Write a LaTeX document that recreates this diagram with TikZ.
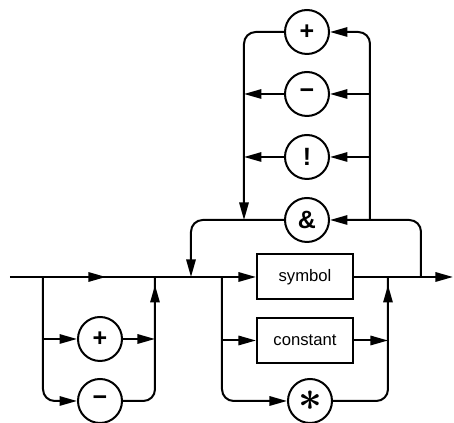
\documentclass[tikz,border=0pt]{standalone}
\usepackage{fontspec}
\setmainfont{Liberation Sans}
\usetikzlibrary{arrows.meta,decorations.markings}

\newcommand{\bigast}{\mbox{\fontsize{25}{25}\selectfont\boldmath$\ast$}}

\tikzset{
  rail/.style={line width=1.2pt,rounded corners=7pt},
  term/.style={draw,circle,line width=1.2pt,minimum size=26.4pt,inner sep=0pt,
    font=\fontsize{15}{15}\selectfont\bfseries},
  nonterm/.style={draw,rectangle,line width=1.2pt,minimum width=57.6pt,
    minimum height=27pt,inner sep=0pt,font=\fontsize{10}{12}\selectfont},
  midtip/.style={postaction={decorate},
    decoration={markings,mark=at position #1 with {\arrow{>}}}}
}

\begin{document}
\begin{tikzpicture}[x=0.6pt,y=-0.6pt,>={Triangle[length=10.5pt,width=5.6pt]}]
      \useasboundingbox (0,0) rectangle (454,423);
      % main line junctions
      \coordinate (in) at (10,277);
      \coordinate (la) at (43,277);
      \coordinate (ra) at (155,277);
      \coordinate (lp) at (191,277);
      \coordinate (lb) at (222,277);
      \coordinate (rb) at (388,277);
      \coordinate (rl) at (421,277);
      \coordinate (out) at (453,277);
      \coordinate (lt) at (244,220);
      \coordinate (rt) at (370,220);

      % sign
      \node[term] (pl) at (100,339) {+};
      \node[term] (mi) at (100,401) {−};
      % operand
      \node[nonterm] (sym) at (305,277) {symbol};
      \node[nonterm] (con) at (305,340.5) {constant};
      \node[term] (st) at (310,401) {\bigast};
      % operator loop
      \node[term] (up) at (307,32) {+};
      \node[term] (um) at (307,94) {−};
      \node[term] (ux) at (307,157) {!};
      \node[term] (ua) at (307,220) {\&};

      \draw[rail,midtip=0.53] (in) -- (lp);
      \draw[rail,->] (lp) -- (sym);
      \draw[rail,->] (sym) -- (out);

      \draw[rail,->] (la) |- (mi);
      \draw[rail,->] (la |- pl) -- (pl);
      \draw[rail,->] (pl) -- (ra |- pl);
      \draw[rail,midtip=-4.8pt] (mi) -| (ra);

      \draw[rail,->] (lb) |- (st);
      \draw[rail,->] (lb |- con) -- (con);
      \draw[rail,->] (con) -- (rb |- con);
      \draw[rail,midtip=-4.8pt] (st) -| (rb);

      \draw[rail,->] (rl) |- (ua);
      \draw[rail,->] (ua) -| (lp);
      \draw[rail,->] (rt) |- (up);
      \draw[rail,->] (rt |- um) -- (um);
      \draw[rail,->] (rt |- ux) -- (ux);
      \draw[rail,->] (up) -| (lt);
      \draw[rail,->] (um) -- (lt |- um);
      \draw[rail,->] (ux) -- (lt |- ux);
    \end{tikzpicture}
\end{document}
